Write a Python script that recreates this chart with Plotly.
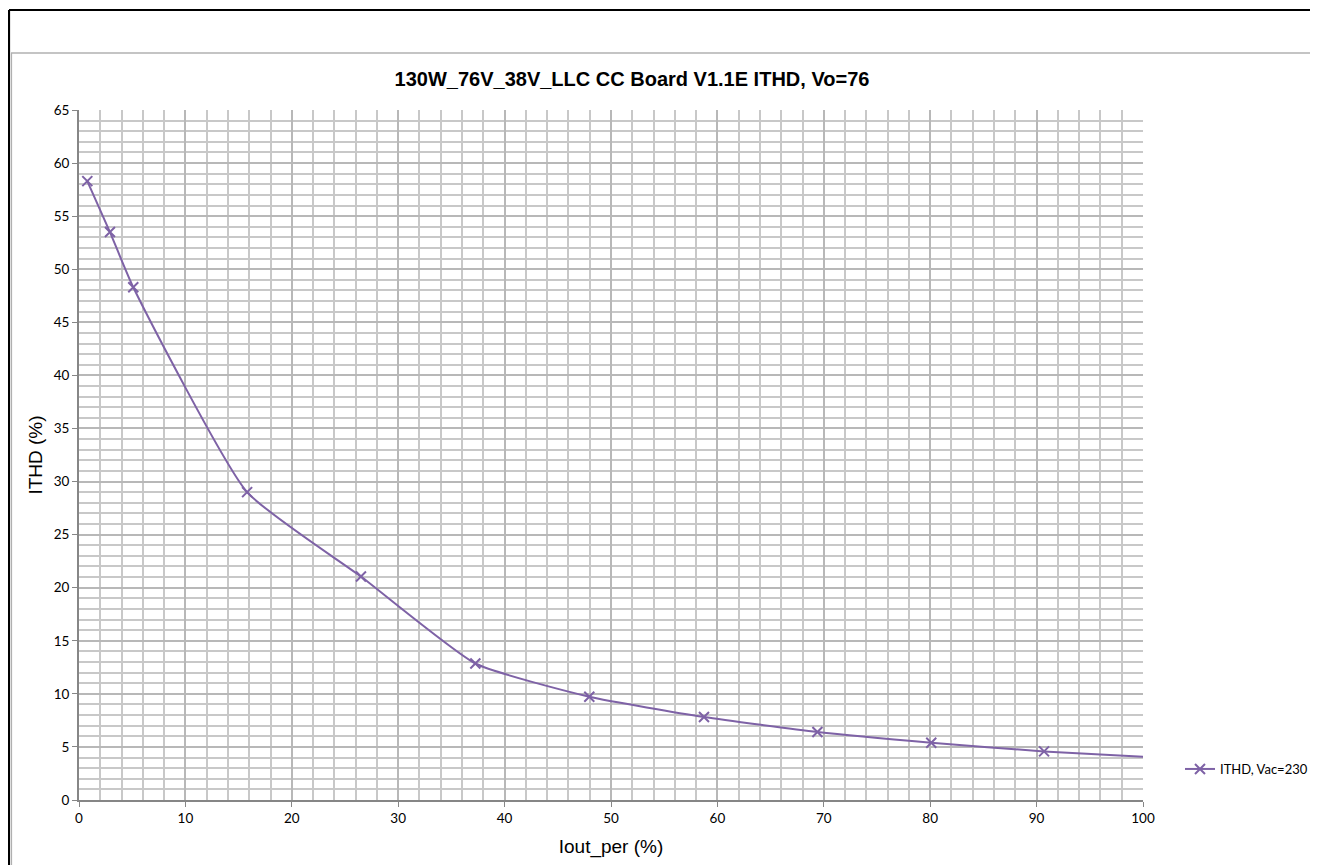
import plotly.graph_objects as go

# Data
iout_per = [0.78, 2.91, 5.1, 15.8, 26.5, 37.25, 47.96, 58.74, 69.4, 80.1, 90.7, 101.4]
ithd_230 = [58.3, 53.5, 48.3, 29.0, 21.05, 12.86, 9.73, 7.82, 6.4, 5.4, 4.58, 4.0]

series_name = "ITHD, Vac=230"
chart_title = "130W_76V_38V_LLC CC Board V1.1E ITHD, Vo=76"
x_title = "Iout_per (%)"
y_title = "ITHD (%)"

W, H = 1318, 865
OFF = 8  # page body margin offset
L, R, T, B = 79 - OFF, 1143 - OFF, 110 - OFF, 800 - OFF  # plot area in figure px


def px(xs):  # screenshot x -> paper
    return (xs - OFF - L) / (R - L)


def py(ys):  # screenshot y -> paper
    return (B - (ys - OFF)) / (B - T)


purple = "#7E62A6"

fig = go.Figure()
fig.add_trace(go.Scatter(
    x=iout_per, y=ithd_230, name=series_name, mode="lines+markers",
    line=dict(color=purple, width=2, shape="spline", smoothing=0.5),
    marker=dict(symbol="x-thin", size=10, line=dict(color=purple, width=2)),
    cliponaxis=True,
))

tick_font = dict(family="Lato, 'Open Sans', sans-serif", size=13.5, color="#000")

fig.update_layout(
    width=W, height=H,
    margin=dict(l=L, r=W - R, t=T, b=H - B, autoexpand=False),
    paper_bgcolor="white", plot_bgcolor="white",
    title=dict(text=f"<b>{chart_title}</b>", x=px(632), xref="paper",
               y=1 - (79 - OFF) / H, yref="container", xanchor="center", yanchor="middle",
               font=dict(family="Liberation Sans, Arial", size=20, color="#000")),
    showlegend=True,
    legend=dict(x=px(1180), y=py(769), xanchor="left", yanchor="middle",
                font=dict(family="Lato, 'Open Sans', sans-serif", size=13, color="#000"),
                bgcolor="rgba(0,0,0,0)", itemwidth=30),
    xaxis=dict(range=[0, 100], dtick=10, tick0=0, showgrid=True,
               gridcolor="#b8b8b8", gridwidth=1.6,
               minor=dict(dtick=2, showgrid=True, gridcolor="#c8c8c8", gridwidth=1.6,
                          ticks=""),
               showline=True, linecolor="#868686", linewidth=2,
               ticks="outside", ticklen=5, tickcolor="#868686", tickwidth=1,
               tickfont=tick_font, zeroline=False,
               title=dict(text=x_title, standoff=14,
                          font=dict(family="Liberation Sans, Arial", size=19, color="#000"))),
    yaxis=dict(range=[0, 65], dtick=5, tick0=0, showgrid=True,
               gridcolor="#b8b8b8", gridwidth=1.6,
               minor=dict(dtick=1, showgrid=True, gridcolor="#c8c8c8", gridwidth=1.6,
                          ticks=""),
               showline=True, linecolor="#868686", linewidth=2,
               ticks="outside", ticklen=5, tickcolor="#868686", tickwidth=1,
               tickfont=tick_font, zeroline=False,
               title=dict(text=y_title, standoff=6,
                          font=dict(family="Liberation Sans, Arial", size=19, color="#000"))),
)

# Outer black frame (top and left edges visible)
fig.add_shape(type="line", xref="paper", yref="paper",
              x0=px(9), x1=px(1340), y0=py(10), y1=py(10),
              line=dict(color="black", width=2.2))
fig.add_shape(type="line", xref="paper", yref="paper",
              x0=px(9), x1=px(9), y0=py(10), y1=py(900),
              line=dict(color="black", width=2.2))
# Inner gray frame
fig.add_shape(type="line", xref="paper", yref="paper",
              x0=px(11), x1=px(1340), y0=py(53), y1=py(53),
              line=dict(color="#b0b0b0", width=1.5))
fig.add_shape(type="line", xref="paper", yref="paper",
              x0=px(11.5), x1=px(11.5), y0=py(53), y1=py(900),
              line=dict(color="#b0b0b0", width=1.2))

fig.write_html("out.html")
